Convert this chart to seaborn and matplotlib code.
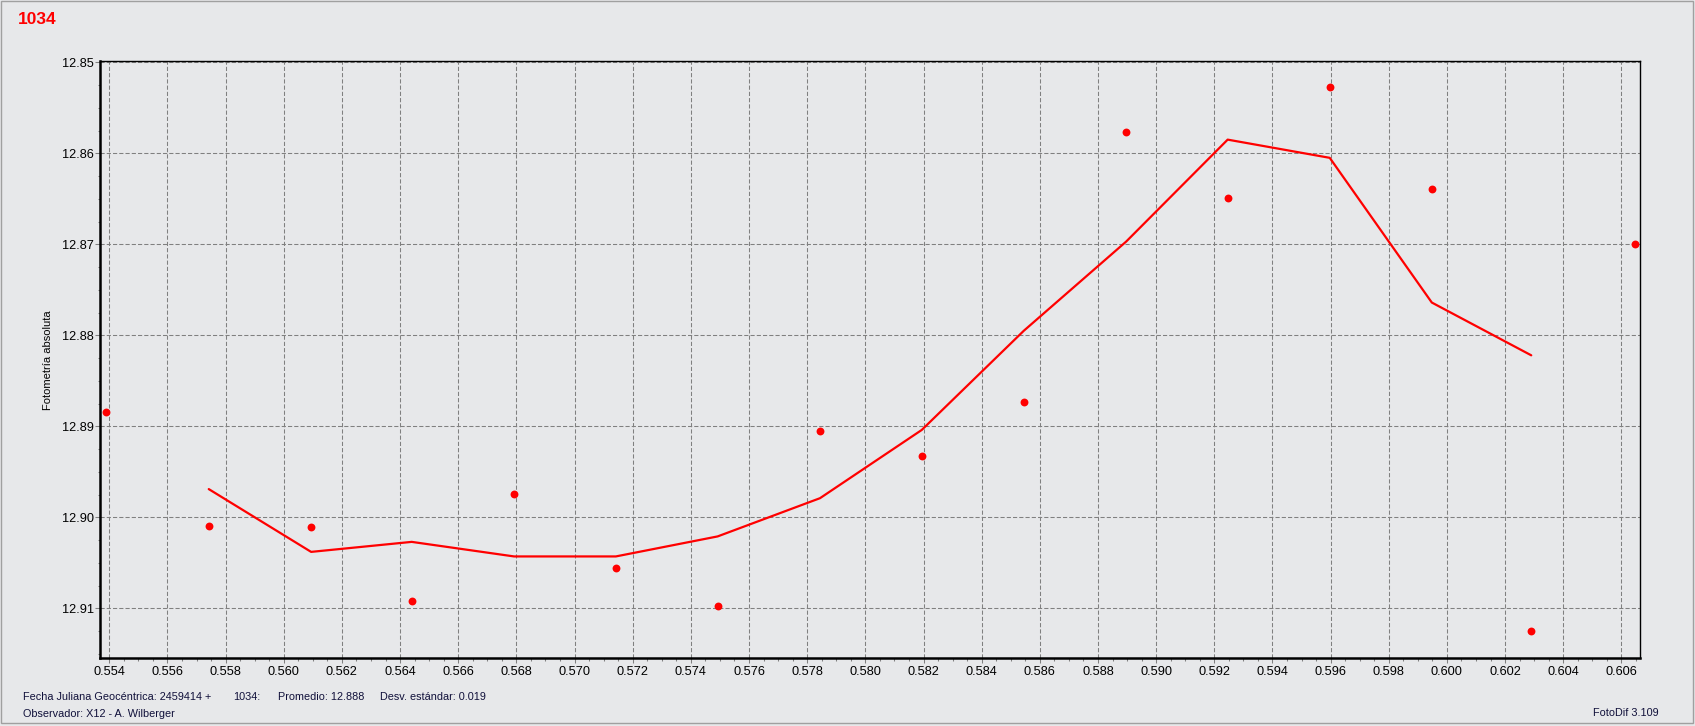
"""
Curva de luz de (1034) - FotoDif.
Recrea el gráfico de fotometría absoluta con seaborn.
"""

import matplotlib.pyplot as plt
import matplotlib.ticker as mticker
from matplotlib.patches import Rectangle
import pandas as pd
import seaborn as sns

W, H = 1695, 726
FONDO = "#E7E8EA"
ROJO = "#FF0000"
GRIS = "#808080"

# Fecha juliana geocéntrica - 2459414 y magnitud de cada medición
jd = [0.55389, 0.55742, 0.56094, 0.56440, 0.56792, 0.57142, 0.57492, 0.57844,
      0.58194, 0.58545, 0.58897, 0.59246, 0.59597, 0.59948, 0.60290, 0.60647]
mag = [12.8884, 12.9010, 12.9011, 12.9092, 12.8974, 12.9056, 12.9098, 12.8905,
       12.8933, 12.8873, 12.8577, 12.8649, 12.8527, 12.8639, 12.9125, 12.8700]

# curva suavizada tal como se ve en el gráfico
jd_curva = [0.55742, 0.56094, 0.56440, 0.56792, 0.57142, 0.57492, 0.57844,
            0.58194, 0.58545, 0.58897, 0.59246, 0.59597, 0.59948, 0.60290]
mag_curva = [12.8969, 12.9038, 12.9027, 12.9043, 12.9043, 12.9021, 12.8979,
             12.8904, 12.8795, 12.8697, 12.8585, 12.8605, 12.8764, 12.8822]

etiqueta_y = "Fotometría absoluta"
titulo = "1034"
pie_1 = ["Fecha Juliana Geocéntrica: 2459414 +", "1034:", "Promedio: 12.888",
         "Desv. estándar: 0.019"]
pie_2 = "Observador: X12 - A. Wilberger"
version = "FotoDif 3.109"

sns.set_style("ticks")
plt.rcParams["font.family"] = ["Liberation Sans", "DejaVu Sans"]

puntos = pd.DataFrame({"jd": jd, "mag": mag})
curva = pd.DataFrame({"jd": jd_curva, "mag": mag_curva})

fig = plt.figure(figsize=(W / 100, H / 100), dpi=100, facecolor=FONDO)
ax = fig.add_axes([100 / W, 1 - 658 / H, 1540 / W, 597 / H])
ax.set_facecolor(FONDO)

sns.lineplot(data=curva, x="jd", y="mag", ax=ax, color=ROJO, linewidth=1.6,
             sort=False, estimator=None, zorder=3)
sns.scatterplot(data=puntos, x="jd", y="mag", ax=ax, color=ROJO, s=32,
                linewidth=0, zorder=4)

ax.set_xlim(0.55368, 0.60664)
ax.set_ylim(12.91546, 12.84986)  # magnitudes: eje invertido

ax.xaxis.set_major_locator(mticker.MultipleLocator(0.002))
ax.xaxis.set_minor_locator(mticker.MultipleLocator(0.0005))
ax.yaxis.set_major_locator(mticker.MultipleLocator(0.01))
ax.yaxis.set_minor_locator(mticker.MultipleLocator(0.0025))
ax.xaxis.set_major_formatter(mticker.FormatStrFormatter("%.3f"))
ax.yaxis.set_major_formatter(mticker.FormatStrFormatter("%.2f"))

ax.grid(False, which="minor")
ax.grid(True, which="major", color=GRIS, linewidth=0.75, linestyle=(0, (4, 2)))
ax.set_axisbelow(True)

ax.tick_params(which="major", direction="out", length=3.6, width=0.75,
               color=GRIS, labelsize=9.2, labelcolor="black")
ax.tick_params(axis="y", which="major", pad=1)
ax.tick_params(axis="x", which="major", pad=2.5)
ax.tick_params(which="minor", direction="out", length=1.8, width=0.75,
               color=GRIS)

for lado in ("left", "bottom"):
    ax.spines[lado].set_linewidth(1.8)
    ax.spines[lado].set_color("black")
for lado in ("top", "right"):
    ax.spines[lado].set_visible(True)
    ax.spines[lado].set_linewidth(1.0)
    ax.spines[lado].set_color("black")

ax.set_xlabel("")
ax.set_ylabel("")
fig.text(48 / W, 1 - 360 / H, etiqueta_y, rotation=90, ha="center",
         va="center", fontsize=8, color="black")

fig.text(18 / W, 1 - 19.5 / H, titulo, ha="left", va="center", fontsize=12.5,
         fontweight="bold", color=ROJO)

for texto, x in zip(pie_1, (22.7, 233, 278, 380)):
    fig.text(x / W, 1 - 697.5 / H, texto, ha="left", va="center",
             fontsize=7.8, color="#10103A")
fig.text(22.7 / W, 1 - 714 / H, pie_2, ha="left", va="center", fontsize=7.8,
         color="#10103A")
fig.text(1593 / W, 1 - 713 / H, version, ha="left", va="center",
         fontsize=7.8, color="#10103A")

# marco de la ventana
fig.patches.append(Rectangle((0.5 / W, 1 - 723 / H), 1692 / W, 722.5 / H,
                             transform=fig.transFigure, fill=False,
                             edgecolor="#A0A0A0", linewidth=1.0))

fig.savefig("out.png", dpi=100, facecolor=FONDO)
